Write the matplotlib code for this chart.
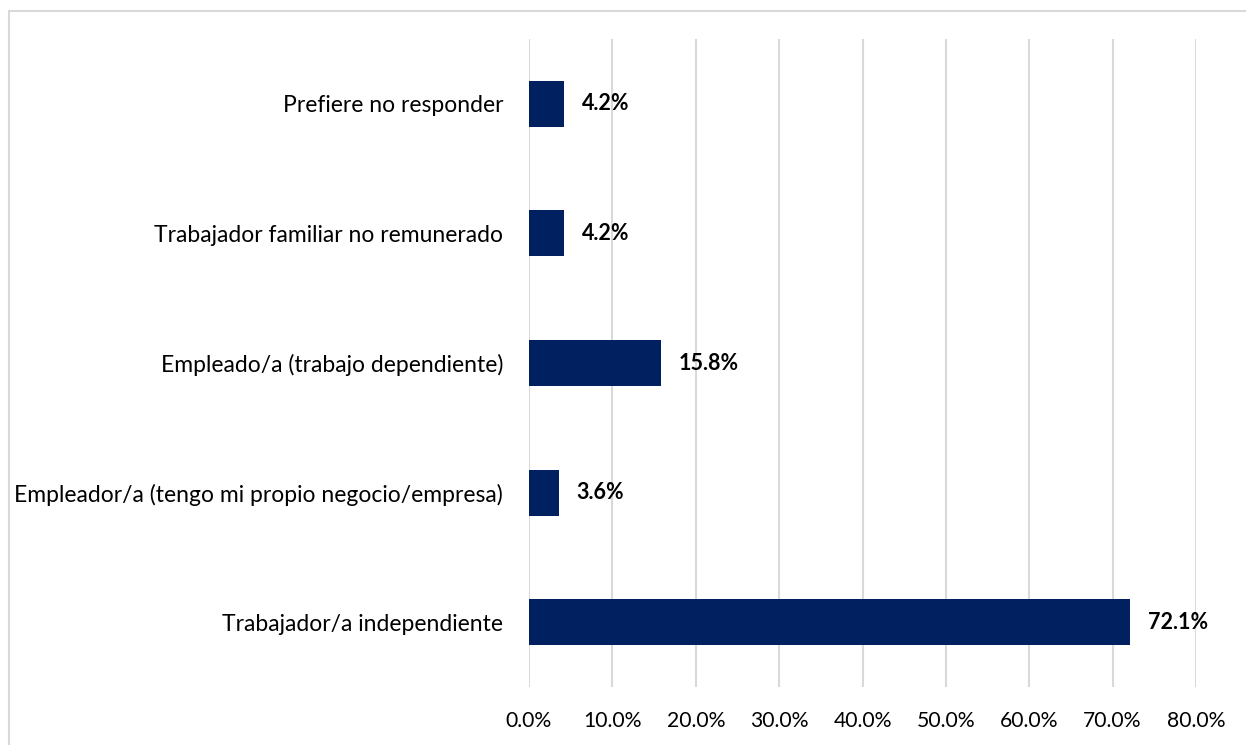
import matplotlib.pyplot as plt
from matplotlib.patches import Rectangle
from matplotlib.ticker import FuncFormatter

categories = [
    "Trabajador/a independiente",
    "Empleador/a (tengo mi propio negocio/empresa)",
    "Empleado/a (trabajo dependiente)",
    "Trabajador familiar no remunerado",
    "Prefiere no responder",
]
values = [72.1, 3.6, 15.8, 4.2, 4.2]
xticks = [0, 10, 20, 30, 40, 50, 60, 70, 80]

plt.rcParams["font.family"] = ["Lato", "DejaVu Sans"]

W, H = 1246, 745
fig = plt.figure(figsize=(W / 100, H / 100), dpi=100)
ax = fig.add_axes([529 / W, 1 - 687 / H, (1196 - 529) / W, (687 - 39) / H])

# light grey frame around the chart area
fig.patches.append(Rectangle((9 / W, -0.1), 1.2, 1.1 - 11 / H, transform=fig.transFigure,
                             fill=False, edgecolor="#d9d9d9", linewidth=1.5))

y = range(len(categories))
ax.barh(y, values, height=0.355, color="#002060", zorder=3)
for i, v in enumerate(values):
    ax.text(v + 2.1, i, f"{v:.1f}%", va="center", ha="left",
            fontsize=15.5, fontweight="bold", color="black")

ax.set_xlim(0, 80)
ax.set_ylim(-0.5, len(categories) - 0.5)
ax.set_xticks(xticks)
ax.xaxis.set_major_formatter(FuncFormatter(lambda v, p: f"{v:.1f}%"))
ax.set_yticks(list(y))
ax.set_yticklabels(categories)
ax.tick_params(axis="both", length=0, colors="black")
ax.tick_params(axis="x", pad=17, labelsize=15.2)
ax.tick_params(axis="y", pad=18.7, labelsize=16.5)
ax.grid(axis="x", color="#d9d9d9", linewidth=1.5, zorder=0)
for s in ax.spines.values():
    s.set_visible(False)

fig.savefig("out.png", dpi=100)
